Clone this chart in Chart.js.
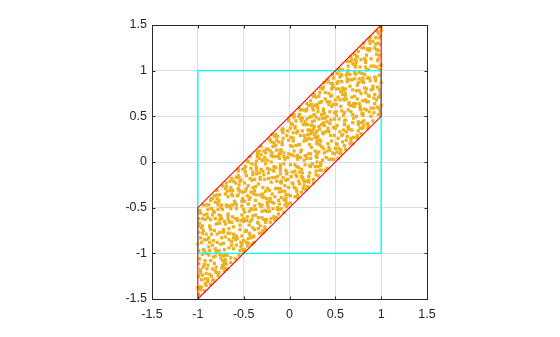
<!DOCTYPE html>
<html><head><meta charset="utf-8">
<script src="https://cdn.jsdelivr.net/npm/chart.js"></script>
<style>html,body{margin:0;padding:0;background:#fff}#wrap{width:560px;height:337px}</style>
</head><body><div id="wrap"><canvas id="c" width="560" height="337"></canvas></div>
<script>
const tickValues = [-1.5, -1, -0.5, 0, 0.5, 1, 1.5];
const tickLabels = ['-1.5', '-1', '-0.5', '0', '0.5', '1', '1.5'];
const squareX = [-1, 1, 1, -1, -1];
const squareY = [-1, -1, 1, 1, -1];
const paraX = [-1, -1, 1, 1, -1];
const paraY = [-1.5, -0.5, 1.5, 0.5, -1.5];
// sample points, flat list x,y,x,y,...
const scatterPts = [
-0.99,-0.62,-0.97,-1.18,-0.93,-0.85,-0.91,-1.35,-0.98,-0.53,-0.95,-1.01,-0.92,-0.63,-0.96,-1.29,-0.99,-1.11,-0.94,-0.75,-0.90,-1.17,-0.97,-0.56,-0.93,-1.41,-0.99,-0.97,-0.95,-0.62,-0.91,-0.79,-0.98,-1.37,-0.96,-0.72,-0.92,-1.08,-0.94,-0.96,-0.99,-1.45,-0.97,-0.83,-0.91,-0.47,-0.95,-1.24,-0.93,-0.58,-0.98,-1.06,-0.90,-0.85,-0.96,-1.37,-0.94,-0.47,-0.92,-1.28,-0.99,-0.77,-0.97,-1.21,-0.91,-1.00,-0.95,-0.78,-0.93,-1.12,
-0.89,-0.52,-0.87,-1.23,-0.84,-0.91,-0.81,-0.44,-0.88,-1.02,-0.86,-0.63,-0.83,-1.29,-0.80,-0.98,-0.85,-0.40,-0.89,-1.31,-0.82,-0.75,-0.87,-0.88,-0.84,-1.17,-0.81,-0.62,-0.88,-0.47,-0.86,-1.08,-0.83,-0.54,-0.80,-1.21,-0.85,-0.79,-0.89,-1.13,-0.82,-0.37,-0.87,-0.70,-0.84,-1.30,-0.81,-0.95,-0.88,-0.83,-0.86,-0.42,-0.83,-1.04,-0.80,-0.68,-0.85,-1.25,-0.89,-0.61,-0.82,-1.11,-0.87,-0.97,-0.84,-0.58,-0.81,-1.19,-0.86,-0.74,
-0.79,-0.31,-0.72,-0.77,-0.76,-0.63,-0.71,-1.10,-0.78,-0.47,-0.74,-1.01,-0.70,-0.68,-0.77,-1.21,-0.73,-0.52,-0.75,-0.90,-0.79,-0.40,-0.72,-1.03,-0.76,-0.67,-0.71,-1.19,-0.78,-0.52,-0.74,-0.83,-0.70,-0.35,-0.77,-0.97,-0.73,-1.08,-0.75,-0.59,-0.79,-0.36,-0.72,-0.74,-0.76,-1.01,-0.71,-0.65,-0.78,-0.45,-0.74,-1.16,-0.70,-0.82,-0.77,-0.58,-0.73,-0.26,-0.75,-1.05,-0.79,-0.79,-0.72,-0.89,-0.76,-0.36,-0.71,-1.09,-0.78,-0.67,-0.74,-0.47,
-0.69,-1.12,-0.63,-0.35,-0.67,-0.62,-0.61,-0.79,-0.65,-0.21,-0.70,-1.01,-0.62,-0.47,-0.66,-0.73,-0.64,-0.28,-0.68,-1.17,-0.69,-0.47,-0.63,-0.87,-0.67,-0.57,-0.61,-0.21,-0.65,-0.78,-0.70,-1.07,-0.62,-0.31,-0.66,-0.65,-0.64,-1.10,-0.68,-0.49,-0.69,-0.23,-0.63,-0.91,-0.67,-0.59,-0.61,-0.71,-0.65,-0.31,-0.70,-1.11,-0.62,-0.37,-0.66,-0.85,-0.64,-0.51,-0.68,-1.02,-0.69,-0.27,-0.63,-0.66,-0.67,-0.38,-0.61,-0.83,-0.65,-0.48,-0.70,-1.17,
-0.58,-0.47,-0.52,-0.90,-0.56,-0.10,-0.50,-0.52,-0.59,-0.85,-0.54,-0.21,-0.51,-0.96,-0.57,-0.37,-0.53,-0.64,-0.55,-0.17,-0.58,-0.91,-0.52,-0.48,-0.56,-0.29,-0.50,-0.98,-0.59,-0.45,-0.54,-0.74,-0.51,-0.08,-0.57,-0.64,-0.53,-0.93,-0.55,-0.31,-0.58,-0.51,-0.52,-0.81,-0.56,-0.08,-0.50,-0.65,-0.59,-0.23,-0.54,-0.97,-0.51,-0.33,-0.57,-0.62,-0.53,-0.88,-0.55,-0.25,-0.58,-0.81,-0.52,-0.43,-0.56,-0.15,-0.50,-0.62,-0.59,-1.06,-0.54,-0.32,
-0.47,-0.64,-0.41,-0.02,-0.45,-0.89,-0.49,-0.43,-0.43,-0.18,-0.40,-0.72,-0.46,0.01,-0.42,-0.51,-0.48,-0.32,-0.44,-0.69,-0.47,-0.15,-0.41,-0.90,-0.45,-0.46,-0.49,-0.07,-0.43,-0.80,-0.40,-0.28,-0.46,-0.60,-0.42,-0.07,-0.48,-0.76,-0.44,-0.41,-0.47,-0.88,-0.41,-0.20,-0.45,0.00,-0.49,-0.55,-0.43,-0.65,-0.40,-0.11,-0.46,-0.92,-0.42,-0.33,-0.48,-0.11,-0.44,-0.78,-0.47,-0.29,-0.41,-0.52,-0.45,-0.84,-0.49,-0.23,-0.43,0.06,-0.40,-0.59,
-0.36,-0.13,-0.31,-0.78,-0.39,-0.35,-0.33,0.04,-0.37,-0.58,-0.30,-0.38,-0.35,0.09,-0.38,-0.74,-0.32,-0.17,-0.34,-0.61,-0.36,-0.06,-0.31,0.17,-0.39,-0.82,-0.33,-0.46,-0.37,-0.27,-0.30,-0.61,-0.35,0.06,-0.38,-0.19,-0.32,-0.36,-0.34,-0.73,-0.36,-0.09,-0.31,-0.49,-0.39,-0.33,-0.33,-0.78,-0.37,-0.03,-0.30,-0.54,-0.35,0.11,-0.38,-0.48,-0.32,-0.19,-0.34,-0.67,-0.36,-0.36,-0.31,0.08,-0.39,-0.88,-0.33,-0.12,-0.37,-0.52,-0.30,0.02,
-0.28,-0.63,-0.22,-0.08,-0.26,-0.32,-0.20,0.22,-0.29,-0.77,-0.24,0.02,-0.21,-0.40,-0.27,-0.19,-0.23,0.14,-0.25,-0.54,-0.28,-0.39,-0.22,0.25,-0.26,-0.66,-0.20,0.00,-0.29,-0.28,-0.24,-0.47,-0.21,0.12,-0.27,-0.71,-0.23,-0.12,-0.25,-0.40,-0.28,0.12,-0.22,-0.54,-0.26,-0.02,-0.20,-0.22,-0.29,-0.75,-0.24,-0.07,-0.21,0.24,-0.27,-0.53,-0.23,-0.18,-0.25,-0.63,-0.28,0.02,-0.22,-0.31,-0.26,0.10,-0.20,-0.62,-0.29,-0.10,-0.24,-0.44,
-0.17,-0.10,-0.11,-0.52,-0.19,0.10,-0.13,-0.29,-0.15,0.30,-0.10,-0.13,-0.18,-0.51,-0.12,0.06,-0.16,-0.63,-0.14,0.24,-0.17,-0.05,-0.11,-0.33,-0.19,-0.17,-0.13,-0.50,-0.15,0.18,-0.10,-0.22,-0.18,0.06,-0.12,-0.57,-0.16,0.28,-0.14,-0.21,-0.17,-0.45,-0.11,0.04,-0.19,0.30,-0.13,-0.52,-0.15,-0.06,-0.10,-0.29,-0.18,0.17,-0.12,-0.42,-0.16,-0.17,-0.14,0.13,-0.17,-0.60,-0.11,0.09,-0.19,-0.44,-0.13,0.28,-0.15,-0.29,-0.10,-0.06,
-0.08,-0.32,-0.02,0.34,-0.06,-0.55,-0.01,0.09,-0.09,0.13,-0.04,-0.40,-0.07,0.36,-0.03,-0.13,-0.10,-0.09,-0.05,-0.47,-0.08,0.22,-0.02,-0.19,-0.06,0.10,-0.01,0.45,-0.09,-0.39,-0.04,-0.09,-0.07,0.32,-0.03,-0.49,-0.10,-0.03,-0.05,-0.26,-0.08,0.19,-0.02,-0.36,-0.06,0.06,-0.01,0.47,-0.09,-0.23,-0.04,-0.43,-0.07,0.26,-0.03,-0.11,-0.10,0.09,-0.05,-0.32,-0.08,0.34,-0.02,-0.46,-0.06,-0.02,-0.01,0.24,-0.09,-0.21,-0.04,-0.36,
0.02,0.42,0.08,-0.05,0.04,0.23,0.09,-0.36,0.01,-0.03,0.06,0.37,0.03,-0.23,0.10,0.19,0.05,0.52,0.07,-0.29,0.02,-0.16,0.08,0.32,0.04,0.07,0.09,-0.39,0.01,0.37,0.06,-0.03,0.03,0.17,0.10,-0.21,0.05,0.49,0.07,-0.14,0.02,0.08,0.08,-0.32,0.04,0.32,0.09,0.07,0.01,0.18,0.06,-0.38,0.03,0.41,0.10,-0.06,0.05,-0.28,0.07,0.18,0.02,0.51,0.08,-0.16,0.04,0.26,0.09,0.03,0.01,-0.37,0.06,0.39,
0.13,-0.16,0.19,0.24,0.11,0.52,0.16,-0.26,0.12,0.29,0.18,0.07,0.14,0.48,0.20,-0.27,0.15,0.41,0.17,-0.03,0.13,0.13,0.19,0.64,0.11,-0.24,0.16,0.29,0.12,0.05,0.18,0.56,0.14,-0.12,0.20,0.41,0.15,-0.29,0.17,0.26,0.13,0.45,0.19,0.04,0.11,0.59,0.16,-0.22,0.12,0.11,0.18,0.41,0.14,-0.17,0.20,0.35,0.15,0.57,0.17,0.07,0.13,-0.33,0.19,0.47,0.11,-0.11,0.16,0.23,0.12,0.48,0.18,-0.30,
0.24,0.40,0.21,-0.16,0.27,0.30,0.23,0.67,0.29,0.06,0.22,0.49,0.26,-0.23,0.30,0.22,0.25,0.60,0.28,0.12,0.24,0.34,0.21,-0.20,0.27,0.74,0.23,-0.05,0.29,0.49,0.22,0.19,0.26,-0.19,0.30,0.61,0.25,0.33,0.28,-0.05,0.24,0.63,0.21,0.09,0.27,0.52,0.23,0.04,0.29,-0.10,0.22,0.35,0.26,0.72,0.30,0.25,0.25,-0.02,0.28,0.62,0.24,0.25,0.21,-0.22,0.27,0.45,0.23,0.09,0.29,0.71,0.22,-0.12,
0.31,-0.15,0.37,0.58,0.33,0.19,0.39,0.76,0.35,0.41,0.30,0.00,0.38,0.87,0.32,0.11,0.36,0.48,0.34,-0.04,0.31,0.59,0.37,0.31,0.33,0.76,0.39,-0.09,0.35,0.52,0.30,0.05,0.38,0.40,0.32,0.72,0.36,0.02,0.34,0.23,0.31,0.55,0.37,0.82,0.33,-0.09,0.39,0.48,0.35,0.17,0.30,0.63,0.38,0.10,0.32,0.47,0.36,0.32,0.34,0.81,0.31,-0.05,0.37,0.56,0.33,0.24,0.39,0.69,0.35,-0.09,0.30,0.34,
0.43,0.75,0.49,0.29,0.41,0.50,0.46,0.03,0.42,0.88,0.48,0.38,0.44,0.66,0.50,0.15,0.45,0.46,0.47,0.86,0.43,0.16,0.49,0.63,0.41,-0.07,0.46,0.73,0.42,0.37,0.48,0.92,0.44,0.13,0.50,0.68,0.45,0.29,0.47,0.83,0.43,0.03,0.49,0.54,0.41,0.66,0.46,0.23,0.42,0.90,0.48,0.03,0.44,0.55,0.50,0.37,0.45,0.86,0.47,0.10,0.43,0.63,0.49,0.47,0.41,0.12,0.46,0.80,0.42,0.34,0.48,0.63,
0.52,0.40,0.58,1.01,0.54,0.15,0.60,0.68,0.51,0.80,0.56,0.09,0.53,0.71,0.59,0.35,0.55,0.93,0.57,0.56,0.52,0.19,0.58,0.81,0.54,1.02,0.60,0.41,0.51,0.55,0.56,0.13,0.53,0.88,0.59,0.51,0.55,0.68,0.57,0.29,0.52,0.97,0.58,0.22,0.54,0.80,0.60,0.45,0.51,0.51,0.56,0.96,0.53,0.04,0.59,0.69,0.55,0.33,0.57,0.88,0.52,0.11,0.58,0.74,0.54,1.00,0.60,0.54,0.51,0.20,0.56,0.77,
0.63,0.88,0.67,0.23,0.61,0.73,0.69,0.52,0.64,1.05,0.70,0.64,0.62,0.24,0.66,0.96,0.68,0.71,0.65,0.36,0.63,1.10,0.67,0.55,0.61,0.80,0.69,0.20,0.64,1.00,0.70,0.48,0.62,0.69,0.66,1.10,0.68,0.35,0.65,0.63,0.63,0.91,0.67,0.26,0.61,0.75,0.69,1.08,0.64,0.39,0.70,0.61,0.62,0.95,0.66,0.20,0.68,0.90,0.65,0.65,0.63,0.28,0.67,1.15,0.61,0.46,0.69,0.79,0.64,0.37,0.70,1.07,
0.72,0.64,0.78,1.12,0.74,0.29,0.71,0.91,0.79,0.53,0.75,1.21,0.73,0.78,0.80,0.44,0.76,0.91,0.77,0.59,0.72,1.12,0.78,0.75,0.74,0.26,0.71,0.98,0.79,0.88,0.75,0.44,0.73,1.16,0.80,0.67,0.76,0.98,0.77,0.37,0.72,1.04,0.78,0.57,0.74,0.69,0.71,1.18,0.79,0.37,0.75,0.87,0.73,1.10,0.80,0.52,0.76,0.78,0.77,0.61,0.72,0.96,0.78,0.31,0.74,1.15,0.71,0.61,0.79,0.97,0.75,0.41,
0.81,1.25,0.87,0.72,0.83,1.11,0.89,0.50,0.85,0.92,0.80,0.53,0.88,1.24,0.82,0.96,0.86,0.40,0.84,0.80,0.81,1.30,0.87,0.55,0.83,1.04,0.89,0.79,0.85,1.24,0.80,0.37,0.88,0.89,0.82,1.13,0.86,0.66,0.84,1.01,0.81,0.45,0.87,1.33,0.83,0.76,0.89,1.13,0.85,0.37,0.80,0.90,0.88,1.30,0.82,0.58,0.86,0.73,0.84,1.17,0.81,0.40,0.87,0.92,0.83,1.09,0.89,0.59,0.85,1.23,0.84,0.66,
0.92,0.59,0.98,1.17,0.94,0.89,0.91,1.32,0.99,0.55,0.95,1.23,0.93,0.74,1.00,1.06,0.96,1.43,0.97,0.71,0.92,1.05,0.98,0.58,0.94,1.29,0.91,0.80,0.99,0.51,0.95,1.18,0.93,0.93,1.00,1.44,0.96,0.60,0.97,1.13,0.92,0.70,0.98,1.36,0.94,0.92,0.91,0.45,0.99,1.29,0.95,1.04,0.93,0.64,1.00,1.48,0.96,0.82,0.97,1.22,0.92,0.54,0.98,1.01,0.94,1.36,0.91,0.83,0.99,0.75,0.96,1.30,
-0.96,-0.88,-0.92,-1.33,-0.98,-0.67,-0.94,-1.15,-0.90,-0.57,-0.97,-1.40,-0.93,-0.97,-0.99,-0.54,-0.91,-1.22,-0.95,-0.70,
-0.86,-1.34,-0.82,-0.55,-0.88,-0.93,-0.84,-0.40,-0.80,-1.15,-0.87,-0.71,-0.83,-0.86,-0.89,-1.28,-0.85,-0.51,-0.81,-1.03,
-0.77,-0.42,-0.73,-1.13,-0.79,-0.88,-0.75,-0.50,-0.71,-0.96,-0.78,-1.24,-0.74,-0.62,-0.70,-0.29,-0.76,-0.77,-0.72,-1.15,
-0.66,-0.94,-0.62,-0.60,-0.68,-0.32,-0.64,-1.05,-0.60,-0.43,-0.67,-0.78,-0.63,-0.18,-0.69,-1.02,-0.65,-0.66,-0.61,-0.95,
-0.57,-0.84,-0.53,-0.20,-0.59,-0.62,-0.55,-1.02,-0.51,-0.40,-0.58,-0.17,-0.54,-0.69,-0.50,-0.86,-0.56,-0.36,-0.52,-0.58,
-0.46,-0.37,-0.42,-0.83,-0.48,-0.05,-0.44,-0.54,-0.40,-0.14,-0.47,-0.75,-0.43,-0.39,-0.49,-0.96,-0.45,-0.26,-0.41,-0.63,
-0.35,-0.66,-0.31,-0.08,-0.37,-0.42,-0.33,0.12,-0.39,-0.81,-0.34,-0.24,-0.30,-0.47,-0.36,0.01,-0.32,-0.70,-0.38,-0.31,
-0.27,0.05,-0.23,-0.50,-0.29,-0.35,-0.25,0.14,-0.21,-0.66,-0.28,-0.14,-0.24,-0.29,-0.20,0.07,-0.26,-0.74,-0.22,-0.43,
-0.16,-0.38,-0.12,0.22,-0.18,-0.09,-0.14,-0.61,-0.10,0.11,-0.17,0.21,-0.13,-0.16,-0.19,-0.35,-0.15,0.06,-0.11,-0.46,
-0.07,-0.17,-0.03,0.29,-0.09,-0.51,-0.05,0.03,-0.01,-0.28,-0.08,0.36,-0.04,-0.20,-0.10,0.13,-0.06,-0.41,-0.02,0.05,
0.03,-0.11,0.07,0.45,0.01,-0.45,0.05,0.12,0.09,0.34,0.04,-0.24,0.08,0.06,0.02,0.27,0.06,-0.10,0.10,0.50,
0.14,0.34,0.18,-0.21,0.12,0.57,0.16,0.02,0.20,0.30,0.13,-0.08,0.17,0.44,0.11,0.19,0.15,-0.19,0.19,0.58,
0.23,0.31,0.27,0.39,0.21,0.26,0.25,0.44,0.29,0.32,0.22,-0.04,0.26,0.57,0.30,0.09,0.24,0.16,0.28,0.27,0.26,0.36,0.21,0.62,0.29,-0.14,0.24,0.50,
0.33,0.36,0.37,0.15,0.31,0.28,0.35,0.66,0.39,0.33,0.32,0.39,0.36,0.80,0.34,-0.01,0.38,0.53,0.30,0.20,0.37,0.43,0.33,0.65,
0.44,0.42,0.48,0.82,0.42,0.20,0.46,0.61,0.40,0.05,0.47,0.96,0.43,0.33,0.49,0.09,0.45,0.72,0.41,0.44,
0.53,0.26,0.57,0.95,0.51,0.63,0.55,0.10,0.59,0.78,0.54,0.47,0.58,0.30,0.52,0.86,0.56,0.61,0.60,0.18,
0.64,0.57,0.68,1.12,0.62,0.33,0.66,0.83,0.70,0.27,0.63,0.97,0.67,0.62,0.61,0.14,0.65,0.90,0.69,0.43,
0.73,0.50,0.77,1.04,0.71,0.72,0.75,0.34,0.79,1.25,0.74,0.84,0.78,0.43,0.72,1.07,0.76,0.64,0.80,0.92,
0.83,0.68,0.87,1.22,0.81,0.87,0.85,0.42,0.89,1.05,0.84,0.57,0.88,1.36,0.82,0.81,0.86,1.01,0.80,0.51,
0.97,0.52,0.99,1.06,0.98,0.79,1.00,0.62,0.99,1.38,0.95,0.68,0.98,0.95,0.93,1.25,0.97,1.41,1.00,0.87,0.99,0.72,0.96,1.11,
-0.99,-1.25,-1.00,-0.90,-0.99,-0.70,-1.00,-1.38
];

const pts = [];
for (let i = 0; i < scatterPts.length; i += 2) pts.push({x: scatterPts[i], y: scatterPts[i + 1]});
const sq = squareX.map((v, i) => ({x: v, y: squareY[i]}));
const pa = paraX.map((v, i) => ({x: v, y: paraY[i]}));

const frame = {
  id: 'frame',
  afterDraw(chart) {
    const {ctx, chartArea: a, scales: {x, y}} = chart;
    ctx.save();
    ctx.strokeStyle = '#262626';
    ctx.lineWidth = 1;
    const L = Math.round(a.left) + 0.5, R = Math.round(a.right) + 0.5;
    const T = Math.round(a.top) + 0.5, B = Math.round(a.bottom) + 0.5;
    ctx.beginPath();
    ctx.moveTo(L, T); ctx.lineTo(R, T); ctx.lineTo(R, B); ctx.lineTo(L, B); ctx.closePath();
    const tl = 3;
    tickValues.forEach(v => {
      const px = Math.round(x.getPixelForValue(v)) + 0.5;
      ctx.moveTo(px, B); ctx.lineTo(px, B - tl);
      ctx.moveTo(px, T); ctx.lineTo(px, T + tl);
      const py = Math.round(y.getPixelForValue(v)) + 0.5;
      ctx.moveTo(L, py); ctx.lineTo(L + tl, py);
      ctx.moveTo(R, py); ctx.lineTo(R - tl, py);
    });
    ctx.stroke();
    ctx.restore();
  }
};

const font = {family: '"Liberation Sans", Arial, Helvetica, sans-serif', size: 12.5};
new Chart(document.getElementById('c'), {
  type: 'scatter',
  data: {
    datasets: [
      {data: pa, showLine: true, borderColor: '#FF0000', borderWidth: 1.1, pointRadius: 0, fill: false, tension: 0},
      {data: sq, showLine: true, borderColor: '#00FFFF', borderWidth: 1.4, pointRadius: 0, fill: false, tension: 0},
      {data: pts, pointStyle: 'rect', pointRadius: 2.3, pointBorderWidth: 0, backgroundColor: '#EDB120', borderColor: '#EDB120', showLine: false}
    ]
  },
  options: {
    responsive: false,
    devicePixelRatio: 1,
    animation: false,
    layout: {padding: {left: 112, right: 133, top: 25, bottom: 18}},
    plugins: {legend: {display: false}, tooltip: {enabled: false}},
    scales: {
      x: {
        type: 'linear', min: -1.5, max: 1.5,
        afterBuildTicks: s => { s.ticks = tickValues.map(v => ({value: v})); },
        afterFit: s => { s.height = 20; },
        grid: {color: '#dedede', lineWidth: 1, drawTicks: false},
        border: {display: false},
        ticks: {font, color: '#262626', padding: 8, maxRotation: 0, autoSkip: false,
          callback: (v) => tickLabels[tickValues.indexOf(v)]}
      },
      y: {
        type: 'linear', min: -1.5, max: 1.5,
        afterBuildTicks: s => { s.ticks = tickValues.map(v => ({value: v})); },
        afterFit: s => { s.width = 40; },
        grid: {color: '#dedede', lineWidth: 1, drawTicks: false},
        border: {display: false},
        ticks: {font, color: '#262626', padding: 5, autoSkip: false,
          callback: (v) => tickLabels[tickValues.indexOf(v)]}
      }
    }
  },
  plugins: [frame]
});
</script>
</body></html>
